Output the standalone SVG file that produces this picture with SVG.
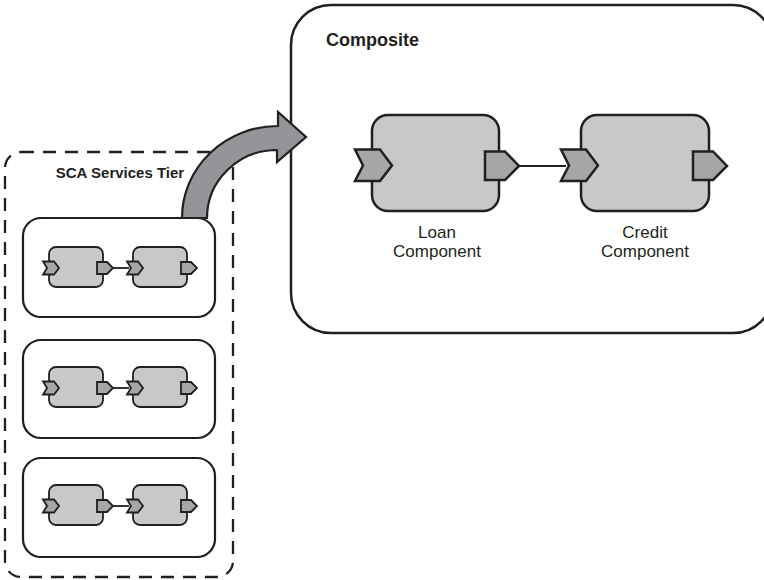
<svg xmlns="http://www.w3.org/2000/svg" xmlns:xlink="http://www.w3.org/1999/xlink" width="764" height="580" viewBox="0 0 764 580">
  <style>
    .frame { fill: #ffffff; stroke: #231f20; stroke-width: 2.5; }
    .tier { fill: none; stroke: #231f20; stroke-width: 2.3; stroke-dasharray: 13 9; }
    .module { fill: #ffffff; stroke: #231f20; stroke-width: 2.2; }
    .comp { fill: #c8c8c9; stroke: #231f20; stroke-width: 2.5; }
    .port { fill: #a5a6a8; stroke: #231f20; stroke-width: 2.5; stroke-linejoin: miter; }
    .scomp { fill: #c8c8c9; stroke: #231f20; stroke-width: 1.8; }
    .sport { fill: #a5a6a8; stroke: #231f20; stroke-width: 1.8; }
    .wire { fill: none; stroke: #231f20; stroke-width: 2; }
    .swire { fill: none; stroke: #231f20; stroke-width: 1.8; }
    .flow { fill: #939598; stroke: #231f20; stroke-width: 2.2; stroke-linejoin: miter; }
    .title { font-family: "Liberation Sans", Arial, sans-serif; font-weight: bold; fill: #231f20; }
    .label { font-family: "Liberation Sans", Arial, sans-serif; font-size: 17px; fill: #231f20; text-anchor: middle; }
  </style>
  <defs>
    <!-- two wired mini components, drawn at the first module's position -->
    <g id="mini-pair">
      <line class="swire" x1="113" y1="268" x2="129" y2="268"/>
      <rect class="scomp" x="49" y="247" width="54" height="40" rx="7"/>
      <polygon class="sport" points="43,261.5 54,261.5 59,268 54,274.5 43,274.5 47,268"/>
      <polygon class="sport" points="97,262 107,262 113,268 107,274 97,274"/>
      <rect class="scomp" x="133" y="247" width="54" height="40" rx="7"/>
      <polygon class="sport" points="127,261.5 138,261.5 143,268 138,274.5 127,274.5 131,268"/>
      <polygon class="sport" points="181,262 191,262 197,268 191,274 181,274"/>
    </g>
  </defs>

  <!-- composite container -->
  <g id="composite">
    <rect class="frame" x="291" y="5" width="482" height="328" rx="40"/>
    <text class="title" x="326" y="46" font-size="18">Composite</text>
  </g>

  <!-- services tier outline -->
  <g id="sca-services-tier">
    <rect class="tier" x="5" y="152" width="228" height="425" rx="16"/>
    <text class="title" x="120" y="178" font-size="15" text-anchor="middle">SCA Services Tier</text>
  </g>

  <g id="connectors">
    <!-- curved flow arrow from the tier into the composite -->
    <path class="flow" d="M182,218 A96,92 0 0 1 278,126 L278,112 L306,137 L277,162 L277,150 A70,68 0 0 0 207,218 Z"/>
    <!-- loan to credit wire -->
    <line class="wire" x1="519" y1="166" x2="566" y2="166"/>
  </g>

  <g id="tier-module-1">
    <rect class="module" x="23" y="218" width="192" height="99" rx="18"/>
    <use xlink:href="#mini-pair"/>
  </g>
  <g id="tier-module-2">
    <rect class="module" x="23" y="340" width="192" height="98" rx="18"/>
    <use xlink:href="#mini-pair" transform="translate(0,120)"/>
  </g>
  <g id="tier-module-3">
    <rect class="module" x="23" y="458" width="192" height="99" rx="18"/>
    <use xlink:href="#mini-pair" transform="translate(0,238)"/>
  </g>

  <g id="loan-component">
    <rect class="comp" x="372" y="115" width="127" height="96" rx="16"/>
    <polygon class="port" points="355,149.5 380,149.5 392,165.5 380,181 355,181 363,165.5"/>
    <polygon class="port" points="485,151.5 505,151.5 519,166 505,180 485,180"/>
    <text class="label" x="437" y="238">Loan</text>
    <text class="label" x="437" y="257">Component</text>
  </g>

  <g id="credit-component">
    <rect class="comp" x="581" y="115" width="128" height="96" rx="16"/>
    <polygon class="port" points="561,149.5 586,149.5 598,165.5 586,181 561,181 569,165.5"/>
    <polygon class="port" points="693,151.5 713,151.5 727,166 713,180 693,180"/>
    <text class="label" x="645" y="238">Credit</text>
    <text class="label" x="645" y="257">Component</text>
  </g>
</svg>
